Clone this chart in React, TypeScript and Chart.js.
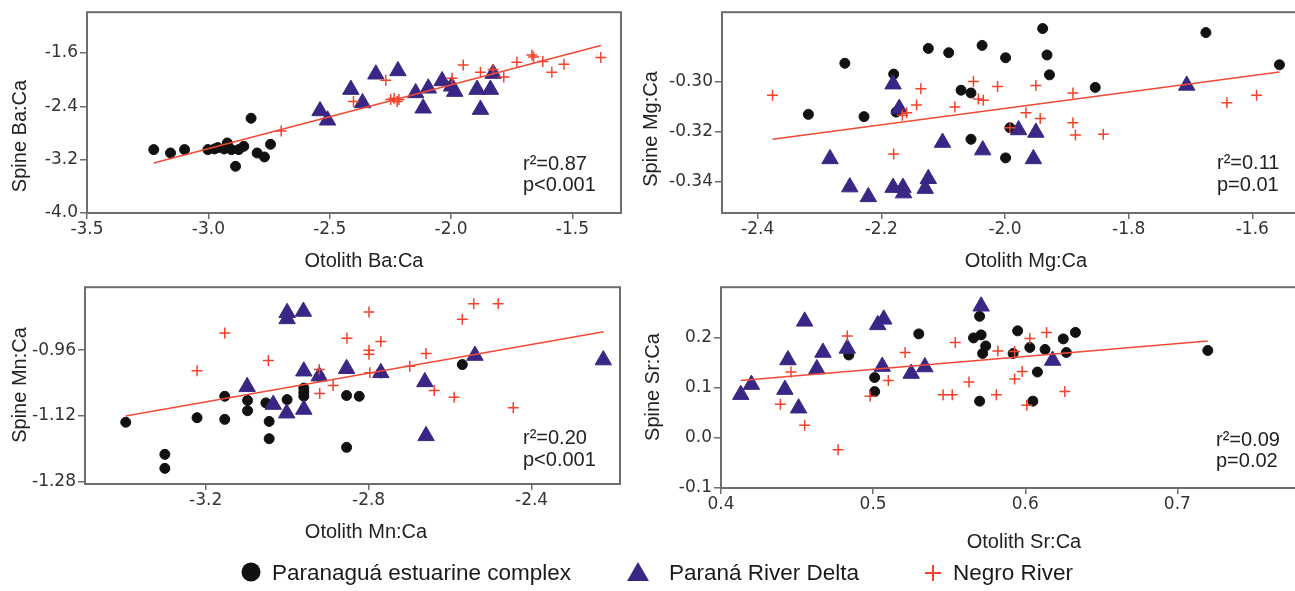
import React, { useEffect, useRef } from "react";
import { Chart, registerables } from "chart.js";

Chart.register(...registerables);

// ---------------- Data ----------------
// Panel A: Ba:Ca
const baCircleX = [-3.225, -3.156, -3.098, -3.002, -2.975, -2.961, -2.935, -2.922, -2.905, -2.888, -2.875, -2.854, -2.824, -2.799, -2.769, -2.744];
const baCircleY = [-3.05, -3.10, -3.05, -3.05, -3.04, -3.02, -3.04, -2.95, -3.05, -3.30, -3.05, -3.00, -2.58, -3.10, -3.16, -2.97];
const baTriX = [-2.540, -2.509, -2.413, -2.365, -2.310, -2.219, -2.146, -2.115, -2.094, -2.037, -1.998, -1.985, -1.893, -1.879, -1.838, -1.827];
const baTriY = [-2.47, -2.61, -2.15, -2.35, -1.92, -1.87, -2.20, -2.43, -2.13, -2.02, -2.10, -2.18, -2.15, -2.45, -2.15, -1.91];
const baCrossX = [-2.70, -2.402, -2.269, -2.249, -2.235, -2.222, -2.215, -1.996, -1.950, -1.879, -1.827, -1.783, -1.729, -1.667, -1.660, -1.622, -1.585, -1.535, -1.383];
const baCrossY = [-2.77, -2.33, -2.01, -2.30, -2.28, -2.33, -2.30, -1.98, -1.78, -1.89, -1.85, -1.96, -1.74, -1.63, -1.66, -1.73, -1.89, -1.77, -1.67];
const baLineX = [-3.225, -1.383];
const baLineY = [-3.25, -1.49];
const baXTicks = [-3.5, -3.0, -2.5, -2.0, -1.5];
const baYTicks = [-4.0, -3.2, -2.4, -1.6];

// Panel B: Mg:Ca
const mgCircleX = [-2.259, -2.318, -2.228, -2.180, -2.176, -2.124, -2.091, -2.071, -2.055, -2.055, -2.037, -1.999, -1.999, -1.992, -1.939, -1.932, -1.928, -1.854, -1.675, -1.556];
const mgCircleY = [-0.2928, -0.3131, -0.3140, -0.2971, -0.3122, -0.2869, -0.2886, -0.3035, -0.3046, -0.3230, -0.2857, -0.2906, -0.3304, -0.3184, -0.2790, -0.2895, -0.2974, -0.3024, -0.2806, -0.2934];
const mgTriX = [-2.181, -2.171, -2.283, -2.251, -2.221, -2.181, -2.165, -2.164, -2.124, -2.129, -2.101, -2.036, -1.978, -1.950, -1.954, -1.706];
const mgTriY = [-0.3011, -0.3108, -0.3308, -0.3420, -0.3459, -0.3422, -0.3422, -0.3444, -0.3387, -0.3426, -0.3243, -0.3273, -0.3193, -0.3203, -0.3308, -0.3016];
const mgCrossX = [-2.376, -2.180, -2.166, -2.159, -2.143, -2.136, -2.081, -2.051, -2.043, -2.035, -2.012, -1.992, -1.966, -1.950, -1.943, -1.890, -1.890, -1.886, -1.841, -1.641, -1.593];
const mgCrossY = [-0.3055, -0.3289, -0.3135, -0.3125, -0.3094, -0.3029, -0.3102, -0.3000, -0.3070, -0.3075, -0.3020, -0.3184, -0.3125, -0.3016, -0.3147, -0.3046, -0.3164, -0.3213, -0.3210, -0.3085, -0.3055];
const mgLineX = [-2.376, -1.556];
const mgLineY = [-0.3230, -0.2963];
const mgXTicks = [-2.4, -2.2, -2.0, -1.8, -1.6];
const mgYTicks = [-0.34, -0.32, -0.30];

// Panel C: Mn:Ca
const mnCircleX = [-3.396, -3.300, -3.300, -3.221, -3.153, -3.153, -3.097, -3.097, -3.052, -3.044, -3.044, -3.000, -2.959, -2.959, -2.959, -2.921, -2.854, -2.823, -2.854, -2.770, -2.570];
const mnCircleY = [-1.135, -1.213, -1.247, -1.124, -1.072, -1.128, -1.082, -1.107, -1.088, -1.133, -1.175, -1.080, -1.052, -1.062, -1.072, -1.024, -1.070, -1.072, -1.196, -1.015, -0.995];
const mnTriX = [-3.000, -3.000, -2.960, -3.098, -3.034, -3.001, -2.959, -2.959, -2.921, -2.854, -2.770, -2.662, -2.659, -2.539, -2.224];
const mnTriY = [-0.869, -0.884, -0.866, -1.049, -1.092, -1.113, -1.011, -1.104, -1.023, -1.005, -1.015, -1.037, -1.168, -0.973, -0.984];
const mnCrossX = [-3.221, -3.153, -3.046, -2.921, -2.920, -2.887, -2.853, -2.799, -2.799, -2.799, -2.797, -2.770, -2.699, -2.659, -2.639, -2.590, -2.570, -2.542, -2.482, -2.445];
const mnCrossY = [-1.010, -0.918, -0.985, -1.007, -1.065, -1.046, -0.931, -0.867, -0.960, -0.970, -1.015, -0.939, -0.999, -0.968, -1.058, -1.074, -0.885, -0.847, -0.847, -1.100];
const mnLineX = [-3.396, -2.223];
const mnLineY = [-1.120, -0.915];
const mnXTicks = [-3.2, -2.8, -2.4];
const mnYTicks = [-1.28, -1.12, -0.96];

// Panel D: Sr:Ca
const srCircleX = [0.484, 0.501, 0.501, 0.530, 0.566, 0.570, 0.571, 0.574, 0.572, 0.570, 0.592, 0.595, 0.603, 0.613, 0.608, 0.605, 0.625, 0.627, 0.633, 0.720];
const srCircleY = [0.165, 0.120, 0.092, 0.207, 0.199, 0.242, 0.205, 0.183, 0.168, 0.073, 0.168, 0.213, 0.180, 0.176, 0.131, 0.073, 0.197, 0.170, 0.210, 0.174];
const srTriX = [0.413, 0.420, 0.444, 0.442, 0.451, 0.455, 0.463, 0.467, 0.483, 0.503, 0.507, 0.506, 0.525, 0.534, 0.571, 0.618];
const srTriY = [0.086, 0.106, 0.155, 0.096, 0.059, 0.232, 0.137, 0.170, 0.178, 0.225, 0.236, 0.142, 0.128, 0.141, 0.262, 0.154];
const srCrossX = [0.439, 0.446, 0.455, 0.477, 0.483, 0.498, 0.510, 0.521, 0.546, 0.552, 0.554, 0.563, 0.581, 0.582, 0.593, 0.593, 0.598, 0.601, 0.603, 0.614, 0.626];
const srCrossY = [0.067, 0.131, 0.025, -0.024, 0.203, 0.083, 0.114, 0.170, 0.086, 0.086, 0.190, 0.111, 0.086, 0.173, 0.117, 0.172, 0.132, 0.065, 0.198, 0.210, 0.092];
const srLineX = [0.413, 0.720];
const srLineY = [0.114, 0.193];
const srXTicks = [0.4, 0.5, 0.6, 0.7];
const srYTicks = [-0.1, 0.0, 0.1, 0.2];

const groupNames = ["Paranaguá estuarine complex", "Paraná River Delta", "Negro River"];

// ---------------- Styles ----------------
const TICK_FONT = "'DejaVu Sans', Verdana, sans-serif";
const TEXT_FONT = "'Liberation Sans', Arial, sans-serif";
const CIRCLE_COLOR = "#111111";
const TRI_COLOR = "#3a2785";
const CROSS_COLOR = "#f5402a";
const LINE_COLOR = "#f24a35";
const FRAME_COLOR = "#6e6e6e";
const TEXT_COLOR = "#222222";

type Box = { left: number; top: number; width: number; height: number };
type PanelCfg = {
  canvas: Box;
  plot: { l: number; t: number; r: number; b: number };
  xRange: [number, number];
  yRange: [number, number];
  xTicks: number[];
  yTicks: number[];
  xDec: number;
  yDec: number;
  circles: [number[], number[]];
  tris: [number[], number[]];
  crosses: [number[], number[]];
  line: [number[], number[]];
  xTitle: string;
  yTitle: string;
  xTitlePos: [number, number];
  yTitlePos: [number, number];
  stats: [string, string];
  statsPos: [number, number, number];
};

const pts = (xs: number[], ys: number[]) => xs.map((x, i) => ({ x, y: ys[i] }));

const panels: PanelCfg[] = [
  {
    canvas: { left: 0, top: 0, width: 640, height: 275 },
    plot: { l: 87, t: 10, r: 621, b: 213 },
    xRange: [-3.5, -1.3],
    yRange: [-4.0, -0.99],
    xTicks: baXTicks, yTicks: baYTicks, xDec: 1, yDec: 1,
    circles: [baCircleX, baCircleY], tris: [baTriX, baTriY], crosses: [baCrossX, baCrossY], line: [baLineX, baLineY],
    xTitle: "Otolith Ba:Ca", yTitle: "Spine Ba:Ca",
    xTitlePos: [364, 267], yTitlePos: [26, 136],
    stats: ["r²=0.87", "p<0.001"], statsPos: [523, 170, 191],
  },
  {
    canvas: { left: 640, top: 0, width: 670, height: 275 },
    plot: { l: 722, t: 10, r: 1300, b: 213 },
    xRange: [-2.4577, -1.5228],
    yRange: [-0.3523, -0.2725],
    xTicks: mgXTicks, yTicks: mgYTicks, xDec: 1, yDec: 2,
    circles: [mgCircleX, mgCircleY], tris: [mgTriX, mgTriY], crosses: [mgCrossX, mgCrossY], line: [mgLineX, mgLineY],
    xTitle: "Otolith Mg:Ca", yTitle: "Spine Mg:Ca",
    xTitlePos: [1026, 267], yTitlePos: [657, 129],
    stats: ["r²=0.11", "p=0.01"], statsPos: [1217, 169, 191],
  },
  {
    canvas: { left: 0, top: 275, width: 640, height: 280 },
    plot: { l: 85, t: 282, r: 620, b: 484 },
    xRange: [-3.496, -2.183],
    yRange: [-1.285, -0.807],
    xTicks: mnXTicks, yTicks: mnYTicks, xDec: 1, yDec: 2,
    circles: [mnCircleX, mnCircleY], tris: [mnTriX, mnTriY], crosses: [mnCrossX, mnCrossY], line: [mnLineX, mnLineY],
    xTitle: "Otolith Mn:Ca", yTitle: "Spine Mn:Ca",
    xTitlePos: [366, 538], yTitlePos: [26, 385],
    stats: ["r²=0.20", "p<0.001"], statsPos: [523, 444, 466],
  },
  {
    canvas: { left: 640, top: 275, width: 670, height: 280 },
    plot: { l: 721, t: 285, r: 1300, b: 488 },
    xRange: [0.4, 0.7806],
    yRange: [-0.1, 0.3],
    xTicks: srXTicks, yTicks: srYTicks, xDec: 1, yDec: 1,
    circles: [srCircleX, srCircleY], tris: [srTriX, srTriY], crosses: [srCrossX, srCrossY], line: [srLineX, srLineY],
    xTitle: "Otolith Sr:Ca", yTitle: "Spine Sr:Ca",
    xTitlePos: [1024, 548], yTitlePos: [659, 387],
    stats: ["r²=0.09", "p=0.02"], statsPos: [1216, 446, 467],
  },
];

function ScatterPanel({ cfg }: { cfg: PanelCfg }) {
  const ref = useRef<HTMLCanvasElement>(null);
  const cv = cfg.canvas;

  useEffect(() => {
    const canvas = ref.current;
    if (!canvas) return;
    const { plot } = cfg;
    const yW = plot.l - cv.left;
    const xH = cv.top + cv.height - plot.b;

    const deco = {
      id: "deco",
      beforeDatasetsDraw(chart: any) {
        const { ctx, chartArea: a } = chart;
        ctx.save();
        ctx.strokeStyle = FRAME_COLOR;
        ctx.lineWidth = 2;
        ctx.strokeRect(a.left, a.top, a.right - a.left, a.bottom - a.top);
        ctx.restore();
      },
      afterDraw(chart: any) {
        const ctx = chart.ctx as CanvasRenderingContext2D;
        ctx.save();
        ctx.fillStyle = TEXT_COLOR;
        ctx.font = `20px ${TEXT_FONT}`;
        ctx.textBaseline = "alphabetic";
        ctx.textAlign = "center";
        ctx.fillText(cfg.xTitle, cfg.xTitlePos[0] - cv.left, cfg.xTitlePos[1] - cv.top);
        ctx.save();
        ctx.translate(cfg.yTitlePos[0] - cv.left, cfg.yTitlePos[1] - cv.top);
        ctx.rotate(-Math.PI / 2);
        ctx.fillText(cfg.yTitle, 0, 0);
        ctx.restore();
        ctx.textAlign = "left";
        ctx.fillText(cfg.stats[0], cfg.statsPos[0] - cv.left, cfg.statsPos[1] - cv.top);
        ctx.fillText(cfg.stats[1], cfg.statsPos[0] - cv.left, cfg.statsPos[2] - cv.top);
        ctx.restore();
      },
    };

    const tickFont = { family: TICK_FONT, size: 17 };
    const gridOpts = {
      display: true,
      drawOnChartArea: false,
      drawTicks: true,
      color: FRAME_COLOR,
      lineWidth: 1.5,
    };

    const chart = new Chart(canvas, {
      type: "scatter",
      data: {
        datasets: [
          {
            label: "fit",
            data: pts(cfg.line[0], cfg.line[1]),
            showLine: true,
            borderColor: LINE_COLOR,
            borderWidth: 1.5,
            pointRadius: 0,
            order: 0,
          },
          {
            label: groupNames[2],
            data: pts(cfg.crosses[0], cfg.crosses[1]),
            pointStyle: "cross",
            pointRadius: 5.5,
            borderColor: CROSS_COLOR,
            backgroundColor: CROSS_COLOR,
            pointBorderWidth: 1.5,
            order: 1,
          },
          {
            label: groupNames[1],
            data: pts(cfg.tris[0], cfg.tris[1]),
            pointStyle: "triangle",
            pointRadius: 9.5,
            borderColor: TRI_COLOR,
            backgroundColor: TRI_COLOR,
            pointBorderWidth: 1,
            order: 2,
          },
          {
            label: groupNames[0],
            data: pts(cfg.circles[0], cfg.circles[1]),
            pointStyle: "circle",
            pointRadius: 5,
            borderColor: CIRCLE_COLOR,
            backgroundColor: CIRCLE_COLOR,
            pointBorderWidth: 1,
            order: 3,
          },
        ] as any,
      },
      options: {
        animation: false,
        responsive: false,
        devicePixelRatio: 1,
        events: [],
        layout: {
          autoPadding: false,
          padding: { top: plot.t - cv.top, right: cv.left + cv.width - plot.r, left: 0, bottom: 0 },
        },
        plugins: { legend: { display: false }, tooltip: { enabled: false } },
        scales: {
          x: {
            type: "linear",
            min: cfg.xRange[0],
            max: cfg.xRange[1],
            afterBuildTicks: (axis: any) => {
              axis.ticks = cfg.xTicks.map((v) => ({ value: v }));
            },
            afterFit: (axis: any) => {
              axis.height = xH;
            },
            grid: { ...gridOpts, tickLength: 6 },
            border: { display: false },
            ticks: {
              font: tickFont,
              color: "#333333",
              padding: 0,
              maxRotation: 0,
              autoSkip: false,
              callback: (v: any) => Number(v).toFixed(cfg.xDec),
            },
          },
          y: {
            type: "linear",
            min: cfg.yRange[0],
            max: cfg.yRange[1],
            afterBuildTicks: (axis: any) => {
              axis.ticks = cfg.yTicks.map((v) => ({ value: v }));
            },
            afterFit: (axis: any) => {
              axis.width = yW;
            },
            grid: { ...gridOpts, tickLength: 7 },
            border: { display: false },
            ticks: {
              font: tickFont,
              color: "#333333",
              padding: 2,
              autoSkip: false,
              callback: (v: any) => Number(v).toFixed(cfg.yDec),
            },
          },
        },
      } as any,
      plugins: [deco as any],
    });

    return () => chart.destroy();
  }, [cfg]);

  return (
    <canvas
      ref={ref}
      width={cv.width}
      height={cv.height}
      style={{ position: "absolute", left: cv.left, top: cv.top, width: cv.width, height: cv.height }}
    />
  );
}

function Legend() {
  const ref = useRef<HTMLCanvasElement>(null);
  const box: Box = { left: 0, top: 552, width: 1295, height: 39 };
  useEffect(() => {
    const c = ref.current;
    if (!c) return;
    const ctx = c.getContext("2d");
    if (!ctx) return;
    ctx.clearRect(0, 0, box.width, box.height);
    const cy = 572 - box.top;
    ctx.fillStyle = CIRCLE_COLOR;
    ctx.beginPath();
    ctx.arc(251, cy, 9.5, 0, Math.PI * 2);
    ctx.fill();
    ctx.fillStyle = TRI_COLOR;
    ctx.beginPath();
    ctx.moveTo(638, cy - 10);
    ctx.lineTo(627, cy + 9);
    ctx.lineTo(649, cy + 9);
    ctx.closePath();
    ctx.fill();
    ctx.strokeStyle = CROSS_COLOR;
    ctx.lineWidth = 2;
    ctx.beginPath();
    ctx.moveTo(925, cy + 1);
    ctx.lineTo(941, cy + 1);
    ctx.moveTo(933, cy - 7);
    ctx.lineTo(933, cy + 9);
    ctx.stroke();
    ctx.fillStyle = "#1a1a1a";
    ctx.font = `22.5px ${TEXT_FONT}`;
    ctx.textBaseline = "alphabetic";
    ctx.textAlign = "left";
    ctx.fillText(groupNames[0], 272, cy + 8);
    ctx.fillText(groupNames[1], 669, cy + 8);
    ctx.fillText(groupNames[2], 953, cy + 8);
  }, []);
  return (
    <canvas
      ref={ref}
      width={box.width}
      height={box.height}
      style={{ position: "absolute", left: box.left, top: box.top, width: box.width, height: box.height }}
    />
  );
}

export default function App() {
  return (
    <div
      style={{
        position: "absolute",
        left: 0,
        top: 0,
        width: 1295,
        height: 591,
        overflow: "hidden",
        background: "#ffffff",
      }}
    >
      {panels.map((p, i) => (
        <ScatterPanel key={i} cfg={p} />
      ))}
      <Legend />
    </div>
  );
}
